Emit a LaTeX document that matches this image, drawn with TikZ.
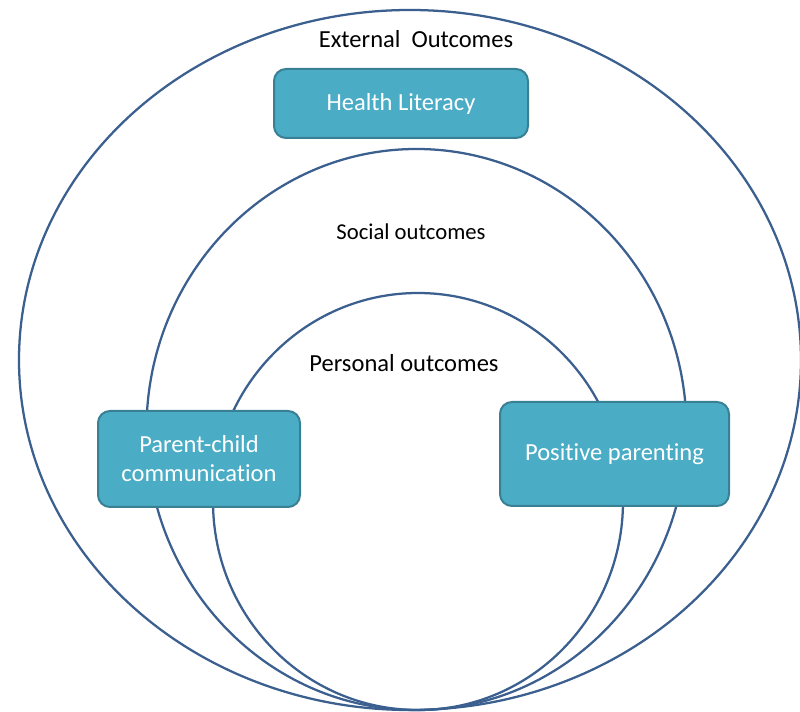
\documentclass[tikz,border=0pt]{standalone}
\usepackage{fontspec}
\setmainfont[Ligatures=NoCommon]{Carlito}
\usepackage{tikz}
\usetikzlibrary{positioning}

\definecolor{ringblue}{HTML}{3B5F8E}
\definecolor{boxfill}{HTML}{4BACC6}
\definecolor{boxedge}{HTML}{3A8095}

\begin{document}
\begin{tikzpicture}[x=0.75pt, y=-0.75pt,
  ring/.style={draw=ringblue, line width=1.7pt},
  box/.style={draw=boxedge, line width=1.5pt, fill=boxfill, rounded corners=9pt,
              text=white, align=center, inner sep=0pt,
              font=\fontsize{18.4}{21.75}\selectfont},
  lbl/.style={inner sep=0pt, font=\fontsize{18.4}{21.75}\selectfont}]
  \useasboundingbox (0,0) rectangle (800,712);
  % outcome rings
  \draw[ring] (410,360) ellipse [x radius=391, y radius=350];
  \draw[ring] (416.5,429.5) ellipse [x radius=270, y radius=280.5];
  \draw[ring] (418,501.5) ellipse [x radius=205, y radius=208.5];
  % ring labels
  \node[lbl] (external) at (416,39) {External\ \ Outcomes};
  \node[lbl, font=\fontsize{17}{20}\selectfont] (social) at (411,232) {Social outcomes};
  \node[lbl] (personal) at (404,363) {Personal outcomes};
  % boxes
  \node[box, minimum width=190.5pt, minimum height=51.75pt] (health) at (401,103.5)
    {Health Literacy};
  \node[box, minimum width=151.5pt, minimum height=72pt] (parentchild) at (199,459)
    {Parent-child\\communication};
  \node[box, minimum width=171.75pt, minimum height=78pt] (positive) at (614.5,454)
    {Positive parenting};
\end{tikzpicture}
\end{document}
